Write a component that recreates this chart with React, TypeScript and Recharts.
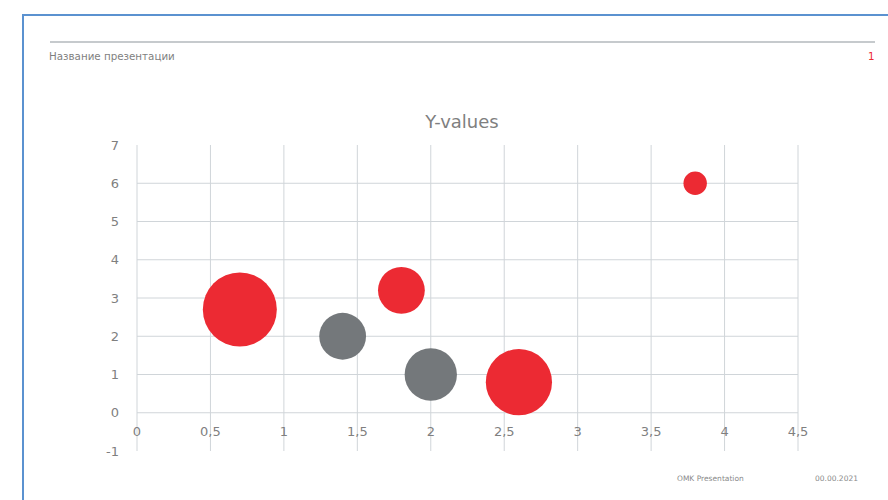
import React from "react";
import {
  ScatterChart,
  Scatter,
  XAxis,
  YAxis,
  ZAxis,
  CartesianGrid,
} from "recharts";

const redX = [0.7, 1.8, 2.6, 3.8];
const redY = [2.7, 3.2, 0.8, 6.0];
const redSize = [10, 4, 8, 1];

const grayX = [1.4, 2.0];
const grayY = [2.0, 1.0];
const graySize = [4, 5];

const xTicks = [0, 0.5, 1, 1.5, 2, 2.5, 3, 3.5, 4, 4.5];
const yTicks = [-1, 0, 1, 2, 3, 4, 5, 6, 7];
const gridYValues = [0, 1, 2, 3, 4, 5, 6];

const titleText = "Y-values";
const headerText = "Название презентации";
const pageNumber = "1";
const footerLeft = "OMK Presentation";
const footerRight = "00.00.2021";

const redData = redX.map((x, i) => ({ x, y: redY[i], z: redSize[i] }));
const grayData = grayX.map((x, i) => ({ x, y: grayY[i], z: graySize[i] }));

const W = 888;
const H = 500;
const X_AXIS_H = 49;
const margin = { top: 145, right: 90, bottom: 0, left: 97 };
const plotH = H - margin.top - margin.bottom - X_AXIS_H;
const zeroOffset = (plotH * (0 - yTicks[0])) / (yTicks[yTicks.length - 1] - yTicks[0]);

const FONT = "'DejaVu Sans', Verdana, sans-serif";
const TICK_COLOR = "#7f7f7f";
const GRID_COLOR = "#d0d5d9";
const RED = "#ec2a33";
const GRAY = "#74787b";

const fmt = (v: number) => String(v).replace(".", ",");

const renderXTick = (props: any) => {
  const { x, y, payload } = props;
  return (
    <text
      key={`xt-${payload.value}`}
      x={x}
      y={y - zeroOffset}
      dy={23}
      textAnchor="middle"
      fill={TICK_COLOR}
      fontSize={13}
      fontFamily={FONT}
    >
      {fmt(payload.value)}
    </text>
  );
};

export default function App() {
  return (
    <div
      style={{
        position: "fixed",
        left: 0,
        top: 0,
        width: W,
        height: H,
        background: "#fff",
        overflow: "hidden",
        fontFamily: FONT,
      }}
    >
      <div style={{ position: "absolute", left: 22, top: 14, width: W - 22, height: 2, background: "#5b92d0" }} />
      <div style={{ position: "absolute", left: 22, top: 14, width: 2, height: H - 14, background: "#5b92d0" }} />
      <div style={{ position: "absolute", left: 50, top: 41, width: 825, height: 2, background: "#c6cacd" }} />
      <div style={{ position: "absolute", left: 49, top: 49, fontSize: 10.3, color: "#7f7f7f", lineHeight: "14px" }}>
        {headerText}
      </div>
      <div style={{ position: "absolute", left: 868, top: 49, fontSize: 10.3, color: RED, lineHeight: "14px" }}>
        {pageNumber}
      </div>
      <div style={{ position: "absolute", left: 0, top: 110, width: 924, textAlign: "center", fontSize: 18, color: "#7f7f7f", lineHeight: "24px" }}>
        {titleText}
      </div>
      <div style={{ position: "absolute", left: 677, top: 474, fontSize: 7.5, color: "#8a8a8a", lineHeight: "10px" }}>
        {footerLeft}
      </div>
      <div style={{ position: "absolute", left: 815, top: 474, fontSize: 7.5, color: "#8a8a8a", lineHeight: "10px" }}>
        {footerRight}
      </div>
      <div style={{ position: "absolute", left: 0, top: 0 }}>
        <ScatterChart width={W} height={H} margin={margin}>
          <CartesianGrid
            stroke={GRID_COLOR}
            strokeWidth={1}
            horizontalValues={gridYValues}
            verticalValues={xTicks}
          />
          <XAxis
            type="number"
            dataKey="x"
            domain={[0, 4.5]}
            ticks={xTicks}
            height={X_AXIS_H}
            axisLine={false}
            tickLine={false}
            tickSize={0}
            tickMargin={0}
            tick={renderXTick}
            interval={0}
            allowDataOverflow
          />
          <YAxis
            type="number"
            dataKey="y"
            domain={[-1, 7]}
            ticks={yTicks}
            width={40}
            axisLine={false}
            tickLine={false}
            tickMargin={12}
            interval={0}
            tick={{ fill: TICK_COLOR, fontSize: 13, fontFamily: FONT }}
            allowDataOverflow
          />
          <ZAxis type="number" dataKey="z" domain={[0, 10]} range={[0, 4301]} />
          <Scatter data={redData} fill={RED} isAnimationActive={false} />
          <Scatter data={grayData} fill={GRAY} isAnimationActive={false} />
        </ScatterChart>
      </div>
    </div>
  );
}
